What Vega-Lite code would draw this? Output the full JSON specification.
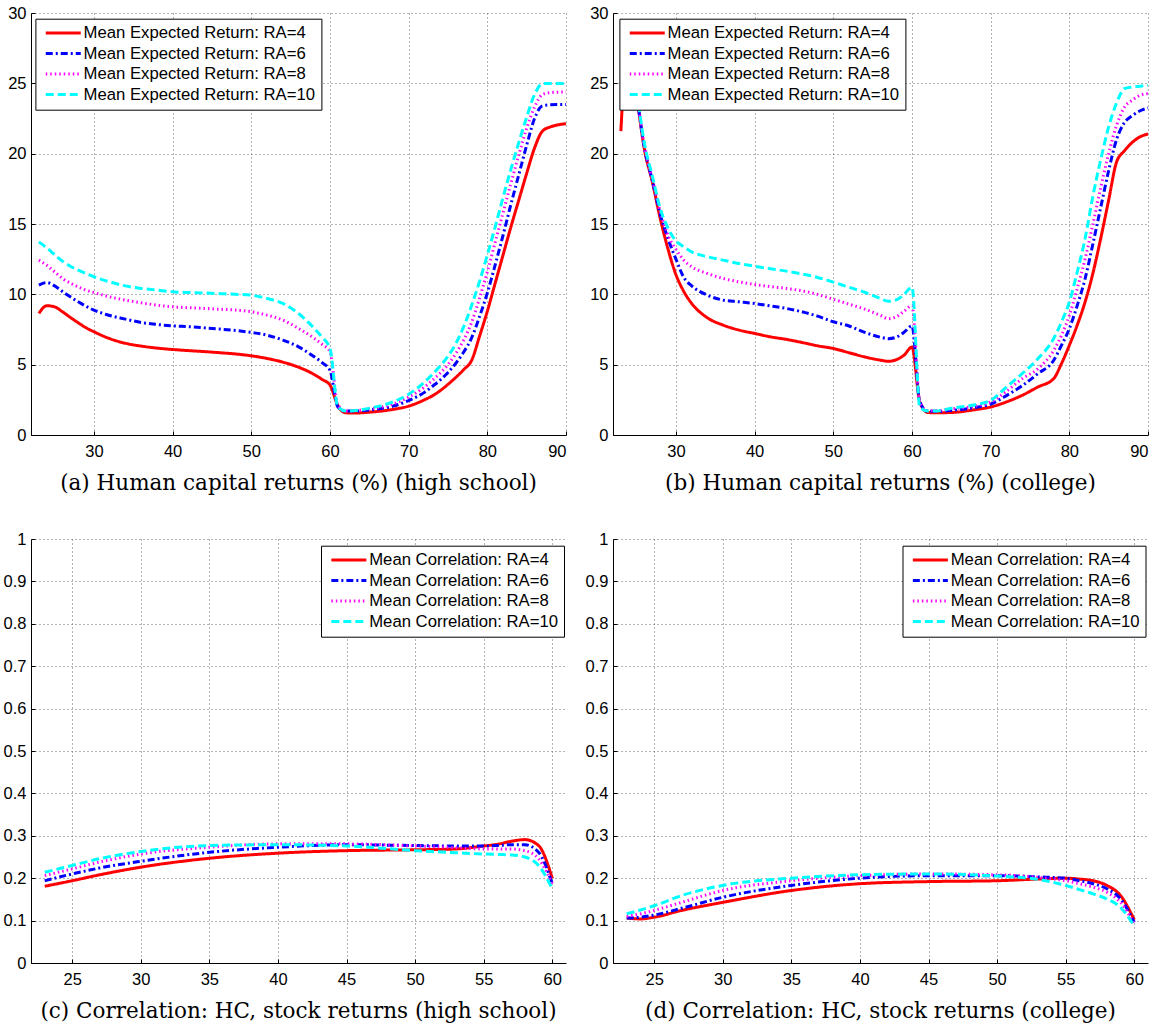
{
  "$schema": "https://vega.github.io/schema/vega-lite/v6.json",
  "background": "white",
  "padding": {"left": 3, "top": 5, "right": 5, "bottom": 5},
  "columns": 2,
  "spacing": {"column": 47, "row": 104},
  "bounds": "flush",
  "resolve": {
    "scale": {"color": "independent", "strokeDash": "independent", "strokeWidth": "independent", "x": "independent", "y": "independent"},
    "legend": {"color": "independent", "strokeDash": "independent", "strokeWidth": "independent"},
    "axis": {"x": "independent", "y": "independent"}
  },
  "config": {
    "view": {"stroke": null},
    "axis": {
      "labelFont": "Liberation Sans", "labelFontSize": 16.5, "labelColor": "black",
      "domainColor": "black", "domainWidth": 1, "tickColor": "black", "tickSize": -4, "tickWidth": 1,
      "grid": true, "gridColor": "#666666", "gridDash": [1, 3], "gridWidth": 1, "title": null
    },
    "axisX": {"labelPadding": 12},
    "axisY": {"labelPadding": 9},
    "legend": {
      "labelFont": "Liberation Sans", "labelFontSize": 16.7, "labelColor": "black", "labelLimit": 400,
      "fillColor": "white", "strokeColor": "black", "padding": 6, "rowPadding": 2.5,
      "symbolType": "M-3.5,0H3.5", "symbolSize": 100, "symbolOffset": 13.5, "labelOffset": 12, "title": null
    },
    "title": {"font": "DejaVu Serif", "fontSize": 21.5, "fontWeight": "normal", "color": "black", "orient": "bottom", "offset": 13, "anchor": "middle"},
    "line": {"interpolate": "monotone", "clip": true, "strokeCap": "butt"}
  },
  "concat": [
    {
      "width": 535, "height": 422,
      "title": {"text": "(a) Human capital returns (%) (high school)"},
      "data": {"values": [
        {"age": 23, "RA=4": 8.64, "RA=6": 10.65, "RA=8": 12.43, "RA=10": 13.73},
        {"age": 24, "RA=4": 9.19, "RA=6": 10.84, "RA=8": 12.07, "RA=10": 13.3},
        {"age": 25, "RA=4": 9.11, "RA=6": 10.6, "RA=8": 11.6, "RA=10": 12.83},
        {"age": 26, "RA=4": 8.76, "RA=6": 10.2, "RA=8": 11.13, "RA=10": 12.36},
        {"age": 27, "RA=4": 8.36, "RA=6": 9.82, "RA=8": 10.8, "RA=10": 12.0},
        {"age": 28, "RA=4": 7.98, "RA=6": 9.47, "RA=8": 10.53, "RA=10": 11.72},
        {"age": 29, "RA=4": 7.62, "RA=6": 9.15, "RA=8": 10.3, "RA=10": 11.47},
        {"age": 30, "RA=4": 7.34, "RA=6": 8.88, "RA=8": 10.13, "RA=10": 11.25},
        {"age": 32, "RA=4": 6.85, "RA=6": 8.5, "RA=8": 9.82, "RA=10": 10.89},
        {"age": 34, "RA=4": 6.52, "RA=6": 8.24, "RA=8": 9.59, "RA=10": 10.6},
        {"age": 36, "RA=4": 6.32, "RA=6": 8.0, "RA=8": 9.4, "RA=10": 10.42},
        {"age": 38, "RA=4": 6.18, "RA=6": 7.86, "RA=8": 9.23, "RA=10": 10.3},
        {"age": 40, "RA=4": 6.08, "RA=6": 7.76, "RA=8": 9.11, "RA=10": 10.18},
        {"age": 42, "RA=4": 6.0, "RA=6": 7.7, "RA=8": 9.05, "RA=10": 10.13},
        {"age": 44, "RA=4": 5.93, "RA=6": 7.62, "RA=8": 9.0, "RA=10": 10.1},
        {"age": 46, "RA=4": 5.85, "RA=6": 7.53, "RA=8": 8.94, "RA=10": 10.05},
        {"age": 48, "RA=4": 5.76, "RA=6": 7.43, "RA=8": 8.88, "RA=10": 10.0},
        {"age": 50, "RA=4": 5.63, "RA=6": 7.29, "RA=8": 8.76, "RA=10": 9.94},
        {"age": 52, "RA=4": 5.44, "RA=6": 7.1, "RA=8": 8.52, "RA=10": 9.7},
        {"age": 54, "RA=4": 5.18, "RA=6": 6.75, "RA=8": 8.17, "RA=10": 9.35},
        {"age": 56, "RA=4": 4.82, "RA=6": 6.27, "RA=8": 7.58, "RA=10": 8.64},
        {"age": 58, "RA=4": 4.3, "RA=6": 5.56, "RA=8": 6.87, "RA=10": 7.58},
        {"age": 59, "RA=4": 3.95, "RA=6": 5.15, "RA=8": 6.45, "RA=10": 6.95},
        {"age": 60, "RA=4": 3.55, "RA=6": 4.6, "RA=8": 5.92, "RA=10": 6.16},
        {"age": 61, "RA=4": 2.1, "RA=6": 2.0, "RA=8": 2.13, "RA=10": 2.0},
        {"age": 62, "RA=4": 1.58, "RA=6": 1.7, "RA=8": 1.7, "RA=10": 1.7},
        {"age": 63, "RA=4": 1.56, "RA=6": 1.7, "RA=8": 1.72, "RA=10": 1.72},
        {"age": 65, "RA=4": 1.62, "RA=6": 1.78, "RA=8": 1.85, "RA=10": 1.9},
        {"age": 68, "RA=4": 1.82, "RA=6": 2.05, "RA=8": 2.2, "RA=10": 2.35},
        {"age": 70, "RA=4": 2.05, "RA=6": 2.45, "RA=8": 2.7, "RA=10": 2.9},
        {"age": 72, "RA=4": 2.5, "RA=6": 3.03, "RA=8": 3.4, "RA=10": 3.75},
        {"age": 73, "RA=4": 2.78, "RA=6": 3.45, "RA=8": 3.88, "RA=10": 4.3},
        {"age": 74, "RA=4": 3.15, "RA=6": 3.9, "RA=8": 4.4, "RA=10": 4.9},
        {"age": 75, "RA=4": 3.6, "RA=6": 4.45, "RA=8": 5.0, "RA=10": 5.6},
        {"age": 76, "RA=4": 4.1, "RA=6": 5.1, "RA=8": 5.8, "RA=10": 6.5},
        {"age": 77, "RA=4": 4.65, "RA=6": 5.9, "RA=8": 6.75, "RA=10": 7.7},
        {"age": 78, "RA=4": 5.3, "RA=6": 6.9, "RA=8": 8.0, "RA=10": 9.2},
        {"age": 79, "RA=4": 7.0, "RA=6": 8.4, "RA=8": 9.7, "RA=10": 10.9},
        {"age": 80, "RA=4": 8.8, "RA=6": 10.1, "RA=8": 11.6, "RA=10": 12.8},
        {"age": 81, "RA=4": 10.8, "RA=6": 12.1, "RA=8": 13.7, "RA=10": 14.8},
        {"age": 82, "RA=4": 12.8, "RA=6": 14.2, "RA=8": 15.8, "RA=10": 16.9},
        {"age": 83, "RA=4": 14.8, "RA=6": 16.4, "RA=8": 17.9, "RA=10": 18.9},
        {"age": 84, "RA=4": 16.7, "RA=6": 18.5, "RA=8": 19.9, "RA=10": 20.8},
        {"age": 85, "RA=4": 18.6, "RA=6": 20.6, "RA=8": 21.8, "RA=10": 22.6},
        {"age": 86, "RA=4": 20.4, "RA=6": 22.5, "RA=8": 23.3, "RA=10": 24.2},
        {"age": 87, "RA=4": 21.6, "RA=6": 23.4, "RA=8": 24.2, "RA=10": 24.98},
        {"age": 88, "RA=4": 21.9, "RA=6": 23.48, "RA=8": 24.34, "RA=10": 24.98},
        {"age": 89, "RA=4": 22.05, "RA=6": 23.5, "RA=8": 24.37, "RA=10": 24.98},
        {"age": 90, "RA=4": 22.13, "RA=6": 23.5, "RA=8": 24.38, "RA=10": 24.98}
      ]},
      "transform": [{"fold": ["RA=4", "RA=6", "RA=8", "RA=10"], "as": ["s", "v"]}],
      "mark": {"type": "line"},
      "encoding": {
        "x": {"field": "age", "type": "quantitative", "scale": {"domain": [22, 90], "nice": false, "zero": false}, "axis": {"values": [30, 40, 50, 60, 70, 80, 90]}},
        "y": {"field": "v", "type": "quantitative", "scale": {"domain": [0, 30], "nice": false}, "axis": {"values": [0, 5, 10, 15, 20, 25, 30]}},
        "color": {"field": "s", "type": "nominal", "scale": {"domain": ["RA=4", "RA=6", "RA=8", "RA=10"], "range": ["#ff0000", "#0000ff", "#ff00ff", "#00ffff"]},
          "legend": {"orient": "none", "legendX": 4.4, "legendY": 5.7, "labelExpr": "'Mean Expected Return: ' + datum.label"}},
        "strokeDash": {"field": "s", "type": "nominal", "scale": {"domain": ["RA=4", "RA=6", "RA=8", "RA=10"], "range": [[1, 0], [7, 3, 2, 3], [1.5, 3], [8, 4]]},
          "legend": {"orient": "none", "legendX": 4.4, "legendY": 5.7, "labelExpr": "'Mean Expected Return: ' + datum.label"}},
        "strokeWidth": {"field": "s", "type": "nominal", "scale": {"domain": ["RA=4", "RA=6", "RA=8", "RA=10"], "range": [3, 3, 2, 3]},
          "legend": {"orient": "none", "legendX": 4.4, "legendY": 5.7, "labelExpr": "'Mean Expected Return: ' + datum.label"}}
      }
    },
    {
      "width": 535, "height": 422,
      "title": {"text": "(b) Human capital returns (%) (college)"},
      "data": {"values": [
        {"age": 23, "RA=4": 21.6, "RA=6": 29.3, "RA=8": 29.3, "RA=10": 29.3},
        {"age": 24, "RA=4": 28.5, "RA=6": 28.0, "RA=8": 28.0, "RA=10": 28.0},
        {"age": 25, "RA=4": 24.2, "RA=6": 24.2, "RA=8": 24.3, "RA=10": 24.4},
        {"age": 26, "RA=4": 20.3, "RA=6": 20.4, "RA=8": 20.5, "RA=10": 20.7},
        {"age": 27, "RA=4": 18.0, "RA=6": 18.1, "RA=8": 18.2, "RA=10": 18.4},
        {"age": 28, "RA=4": 15.4, "RA=6": 15.7, "RA=8": 15.9, "RA=10": 16.1},
        {"age": 29, "RA=4": 13.2, "RA=6": 13.95, "RA=8": 14.2, "RA=10": 14.7},
        {"age": 30, "RA=4": 11.4, "RA=6": 12.5, "RA=8": 13.2, "RA=10": 13.8},
        {"age": 31, "RA=4": 10.2, "RA=6": 11.2, "RA=8": 12.43, "RA=10": 13.38},
        {"age": 32, "RA=4": 9.35, "RA=6": 10.6, "RA=8": 11.96, "RA=10": 13.02},
        {"age": 34, "RA=4": 8.33, "RA=6": 9.94, "RA=8": 11.48, "RA=10": 12.67},
        {"age": 36, "RA=4": 7.81, "RA=6": 9.59, "RA=8": 11.13, "RA=10": 12.43},
        {"age": 38, "RA=4": 7.46, "RA=6": 9.47, "RA=8": 10.89, "RA=10": 12.19},
        {"age": 40, "RA=4": 7.22, "RA=6": 9.35, "RA=8": 10.7, "RA=10": 12.0},
        {"age": 42, "RA=4": 6.98, "RA=6": 9.18, "RA=8": 10.55, "RA=10": 11.82},
        {"age": 44, "RA=4": 6.8, "RA=6": 9.0, "RA=8": 10.42, "RA=10": 11.65},
        {"age": 46, "RA=4": 6.58, "RA=6": 8.76, "RA=8": 10.25, "RA=10": 11.45},
        {"age": 48, "RA=4": 6.34, "RA=6": 8.45, "RA=8": 10.0, "RA=10": 11.2},
        {"age": 50, "RA=4": 6.15, "RA=6": 8.05, "RA=8": 9.65, "RA=10": 10.87},
        {"age": 52, "RA=4": 5.85, "RA=6": 7.75, "RA=8": 9.3, "RA=10": 10.5},
        {"age": 54, "RA=4": 5.55, "RA=6": 7.3, "RA=8": 8.95, "RA=10": 10.15},
        {"age": 56, "RA=4": 5.32, "RA=6": 6.95, "RA=8": 8.5, "RA=10": 9.7},
        {"age": 57, "RA=4": 5.24, "RA=6": 6.85, "RA=8": 8.27, "RA=10": 9.5},
        {"age": 58, "RA=4": 5.35, "RA=6": 6.95, "RA=8": 8.4, "RA=10": 9.6},
        {"age": 59, "RA=4": 5.68, "RA=6": 7.3, "RA=8": 8.8, "RA=10": 10.0},
        {"age": 60, "RA=4": 6.25, "RA=6": 7.75, "RA=8": 9.2, "RA=10": 10.5},
        {"age": 61, "RA=4": 2.35, "RA=6": 2.35, "RA=8": 2.35, "RA=10": 2.0},
        {"age": 62, "RA=4": 1.6, "RA=6": 1.68, "RA=8": 1.72, "RA=10": 1.7},
        {"age": 63, "RA=4": 1.58, "RA=6": 1.68, "RA=8": 1.72, "RA=10": 1.7},
        {"age": 65, "RA=4": 1.6, "RA=6": 1.75, "RA=8": 1.85, "RA=10": 1.9},
        {"age": 68, "RA=4": 1.8, "RA=6": 1.95, "RA=8": 2.05, "RA=10": 2.15},
        {"age": 70, "RA=4": 1.99, "RA=6": 2.2, "RA=8": 2.35, "RA=10": 2.46},
        {"age": 72, "RA=4": 2.35, "RA=6": 2.8, "RA=8": 3.1, "RA=10": 3.41},
        {"age": 74, "RA=4": 2.82, "RA=6": 3.5, "RA=8": 4.0, "RA=10": 4.36},
        {"age": 76, "RA=4": 3.41, "RA=6": 4.36, "RA=8": 4.71, "RA=10": 5.42},
        {"age": 78, "RA=4": 4.0, "RA=6": 5.3, "RA=8": 6.0, "RA=10": 6.84},
        {"age": 79, "RA=4": 5.07, "RA=6": 6.37, "RA=8": 7.08, "RA=10": 8.03},
        {"age": 80, "RA=4": 6.37, "RA=6": 7.56, "RA=8": 8.5, "RA=10": 9.45},
        {"age": 81, "RA=4": 7.8, "RA=6": 9.2, "RA=8": 10.4, "RA=10": 11.58},
        {"age": 82, "RA=4": 9.45, "RA=6": 11.1, "RA=8": 12.5, "RA=10": 13.95},
        {"age": 83, "RA=4": 11.5, "RA=6": 13.6, "RA=8": 15.0, "RA=10": 17.0},
        {"age": 84, "RA=4": 14.0, "RA=6": 16.2, "RA=8": 17.6, "RA=10": 19.6},
        {"age": 85, "RA=4": 16.7, "RA=6": 18.8, "RA=8": 20.0, "RA=10": 21.9},
        {"age": 86, "RA=4": 19.4, "RA=6": 21.0, "RA=8": 22.0, "RA=10": 23.6},
        {"age": 87, "RA=4": 20.2, "RA=6": 22.2, "RA=8": 23.3, "RA=10": 24.62},
        {"age": 88, "RA=4": 20.8, "RA=6": 22.7, "RA=8": 23.8, "RA=10": 24.74},
        {"age": 89, "RA=4": 21.2, "RA=6": 23.05, "RA=8": 24.15, "RA=10": 24.8},
        {"age": 90, "RA=4": 21.4, "RA=6": 23.25, "RA=8": 24.27, "RA=10": 24.86}
      ]},
      "transform": [{"fold": ["RA=4", "RA=6", "RA=8", "RA=10"], "as": ["s", "v"]}],
      "mark": {"type": "line"},
      "encoding": {
        "x": {"field": "age", "type": "quantitative", "scale": {"domain": [22, 90], "nice": false, "zero": false}, "axis": {"values": [30, 40, 50, 60, 70, 80, 90]}},
        "y": {"field": "v", "type": "quantitative", "scale": {"domain": [0, 30], "nice": false}, "axis": {"values": [0, 5, 10, 15, 20, 25, 30]}},
        "color": {"field": "s", "type": "nominal", "scale": {"domain": ["RA=4", "RA=6", "RA=8", "RA=10"], "range": ["#ff0000", "#0000ff", "#ff00ff", "#00ffff"]},
          "legend": {"orient": "none", "legendX": 6.4, "legendY": 5.7, "labelExpr": "'Mean Expected Return: ' + datum.label"}},
        "strokeDash": {"field": "s", "type": "nominal", "scale": {"domain": ["RA=4", "RA=6", "RA=8", "RA=10"], "range": [[1, 0], [7, 3, 2, 3], [1.5, 3], [8, 4]]},
          "legend": {"orient": "none", "legendX": 6.4, "legendY": 5.7, "labelExpr": "'Mean Expected Return: ' + datum.label"}},
        "strokeWidth": {"field": "s", "type": "nominal", "scale": {"domain": ["RA=4", "RA=6", "RA=8", "RA=10"], "range": [3, 3, 2, 3]},
          "legend": {"orient": "none", "legendX": 6.4, "legendY": 5.7, "labelExpr": "'Mean Expected Return: ' + datum.label"}}
      }
    },
    {
      "width": 535, "height": 424,
      "title": {"text": "(c) Correlation: HC, stock returns (high school)"},
      "data": {"values": [
        {"age": 23, "RA=4": 0.181, "RA=6": 0.194, "RA=8": 0.206, "RA=10": 0.214},
        {"age": 25, "RA=4": 0.194, "RA=6": 0.21, "RA=8": 0.222, "RA=10": 0.23},
        {"age": 27, "RA=4": 0.208, "RA=6": 0.224, "RA=8": 0.238, "RA=10": 0.246},
        {"age": 30, "RA=4": 0.226, "RA=6": 0.24, "RA=8": 0.257, "RA=10": 0.263},
        {"age": 35, "RA=4": 0.247, "RA=6": 0.261, "RA=8": 0.273, "RA=10": 0.277},
        {"age": 40, "RA=4": 0.259, "RA=6": 0.273, "RA=8": 0.281, "RA=10": 0.279},
        {"age": 45, "RA=4": 0.265, "RA=6": 0.279, "RA=8": 0.281, "RA=10": 0.276},
        {"age": 50, "RA=4": 0.267, "RA=6": 0.277, "RA=8": 0.276, "RA=10": 0.265},
        {"age": 53, "RA=4": 0.269, "RA=6": 0.276, "RA=8": 0.272, "RA=10": 0.26},
        {"age": 55, "RA=4": 0.276, "RA=6": 0.276, "RA=8": 0.269, "RA=10": 0.257},
        {"age": 56, "RA=4": 0.28, "RA=6": 0.277, "RA=8": 0.269, "RA=10": 0.256},
        {"age": 57, "RA=4": 0.287, "RA=6": 0.279, "RA=8": 0.269, "RA=10": 0.255},
        {"age": 58, "RA=4": 0.291, "RA=6": 0.279, "RA=8": 0.265, "RA=10": 0.25},
        {"age": 59, "RA=4": 0.277, "RA=6": 0.261, "RA=8": 0.246, "RA=10": 0.23},
        {"age": 60, "RA=4": 0.2, "RA=6": 0.187, "RA=8": 0.187, "RA=10": 0.175}
      ]},
      "transform": [{"fold": ["RA=4", "RA=6", "RA=8", "RA=10"], "as": ["s", "v"]}],
      "mark": {"type": "line"},
      "encoding": {
        "x": {"field": "age", "type": "quantitative", "scale": {"domain": [22, 61], "nice": false, "zero": false}, "axis": {"values": [25, 30, 35, 40, 45, 50, 55, 60]}},
        "y": {"field": "v", "type": "quantitative", "scale": {"domain": [0, 1], "nice": false}, "axis": {"values": [0, 0.1, 0.2, 0.3, 0.4, 0.5, 0.6, 0.7, 0.8, 0.9, 1], "labelExpr": "'' + datum.value"}},
        "color": {"field": "s", "type": "nominal", "scale": {"domain": ["RA=4", "RA=6", "RA=8", "RA=10"], "range": ["#ff0000", "#0000ff", "#ff00ff", "#00ffff"]},
          "legend": {"orient": "none", "legendX": 290, "legendY": 6.7, "labelExpr": "'Mean Correlation: ' + datum.label"}},
        "strokeDash": {"field": "s", "type": "nominal", "scale": {"domain": ["RA=4", "RA=6", "RA=8", "RA=10"], "range": [[1, 0], [7, 3, 2, 3], [1.5, 3], [8, 4]]},
          "legend": {"orient": "none", "legendX": 290, "legendY": 6.7, "labelExpr": "'Mean Correlation: ' + datum.label"}},
        "strokeWidth": {"field": "s", "type": "nominal", "scale": {"domain": ["RA=4", "RA=6", "RA=8", "RA=10"], "range": [3, 3, 2, 3]},
          "legend": {"orient": "none", "legendX": 290, "legendY": 6.7, "labelExpr": "'Mean Correlation: ' + datum.label"}}
      }
    },
    {
      "width": 535, "height": 424,
      "title": {"text": "(d) Correlation: HC, stock returns (college)"},
      "data": {"values": [
        {"age": 23, "RA=4": 0.106, "RA=6": 0.106, "RA=8": 0.11, "RA=10": 0.116},
        {"age": 24, "RA=4": 0.104, "RA=6": 0.108, "RA=8": 0.116, "RA=10": 0.125},
        {"age": 25, "RA=4": 0.108, "RA=6": 0.113, "RA=8": 0.124, "RA=10": 0.135},
        {"age": 27, "RA=4": 0.124, "RA=6": 0.129, "RA=8": 0.143, "RA=10": 0.159},
        {"age": 30, "RA=4": 0.143, "RA=6": 0.155, "RA=8": 0.171, "RA=10": 0.183},
        {"age": 35, "RA=4": 0.171, "RA=6": 0.183, "RA=8": 0.194, "RA=10": 0.2},
        {"age": 40, "RA=4": 0.187, "RA=6": 0.2, "RA=8": 0.206, "RA=10": 0.208},
        {"age": 45, "RA=4": 0.192, "RA=6": 0.206, "RA=8": 0.21, "RA=10": 0.21},
        {"age": 50, "RA=4": 0.194, "RA=6": 0.206, "RA=8": 0.208, "RA=10": 0.205},
        {"age": 53, "RA=4": 0.198, "RA=6": 0.203, "RA=8": 0.202, "RA=10": 0.197},
        {"age": 55, "RA=4": 0.2, "RA=6": 0.2, "RA=8": 0.194, "RA=10": 0.183},
        {"age": 56, "RA=4": 0.198, "RA=6": 0.194, "RA=8": 0.187, "RA=10": 0.173},
        {"age": 57, "RA=4": 0.194, "RA=6": 0.187, "RA=8": 0.179, "RA=10": 0.163},
        {"age": 58, "RA=4": 0.183, "RA=6": 0.175, "RA=8": 0.167, "RA=10": 0.151},
        {"age": 59, "RA=4": 0.159, "RA=6": 0.151, "RA=8": 0.143, "RA=10": 0.131},
        {"age": 60, "RA=4": 0.102, "RA=6": 0.096, "RA=8": 0.092, "RA=10": 0.087}
      ]},
      "transform": [{"fold": ["RA=4", "RA=6", "RA=8", "RA=10"], "as": ["s", "v"]}],
      "mark": {"type": "line"},
      "encoding": {
        "x": {"field": "age", "type": "quantitative", "scale": {"domain": [22, 61], "nice": false, "zero": false}, "axis": {"values": [25, 30, 35, 40, 45, 50, 55, 60]}},
        "y": {"field": "v", "type": "quantitative", "scale": {"domain": [0, 1], "nice": false}, "axis": {"values": [0, 0.1, 0.2, 0.3, 0.4, 0.5, 0.6, 0.7, 0.8, 0.9, 1], "labelExpr": "'' + datum.value"}},
        "color": {"field": "s", "type": "nominal", "scale": {"domain": ["RA=4", "RA=6", "RA=8", "RA=10"], "range": ["#ff0000", "#0000ff", "#ff00ff", "#00ffff"]},
          "legend": {"orient": "none", "legendX": 289.5, "legendY": 6.7, "labelExpr": "'Mean Correlation: ' + datum.label"}},
        "strokeDash": {"field": "s", "type": "nominal", "scale": {"domain": ["RA=4", "RA=6", "RA=8", "RA=10"], "range": [[1, 0], [7, 3, 2, 3], [1.5, 3], [8, 4]]},
          "legend": {"orient": "none", "legendX": 289.5, "legendY": 6.7, "labelExpr": "'Mean Correlation: ' + datum.label"}},
        "strokeWidth": {"field": "s", "type": "nominal", "scale": {"domain": ["RA=4", "RA=6", "RA=8", "RA=10"], "range": [3, 3, 2, 3]},
          "legend": {"orient": "none", "legendX": 289.5, "legendY": 6.7, "labelExpr": "'Mean Correlation: ' + datum.label"}}
      }
    }
  ]
}
